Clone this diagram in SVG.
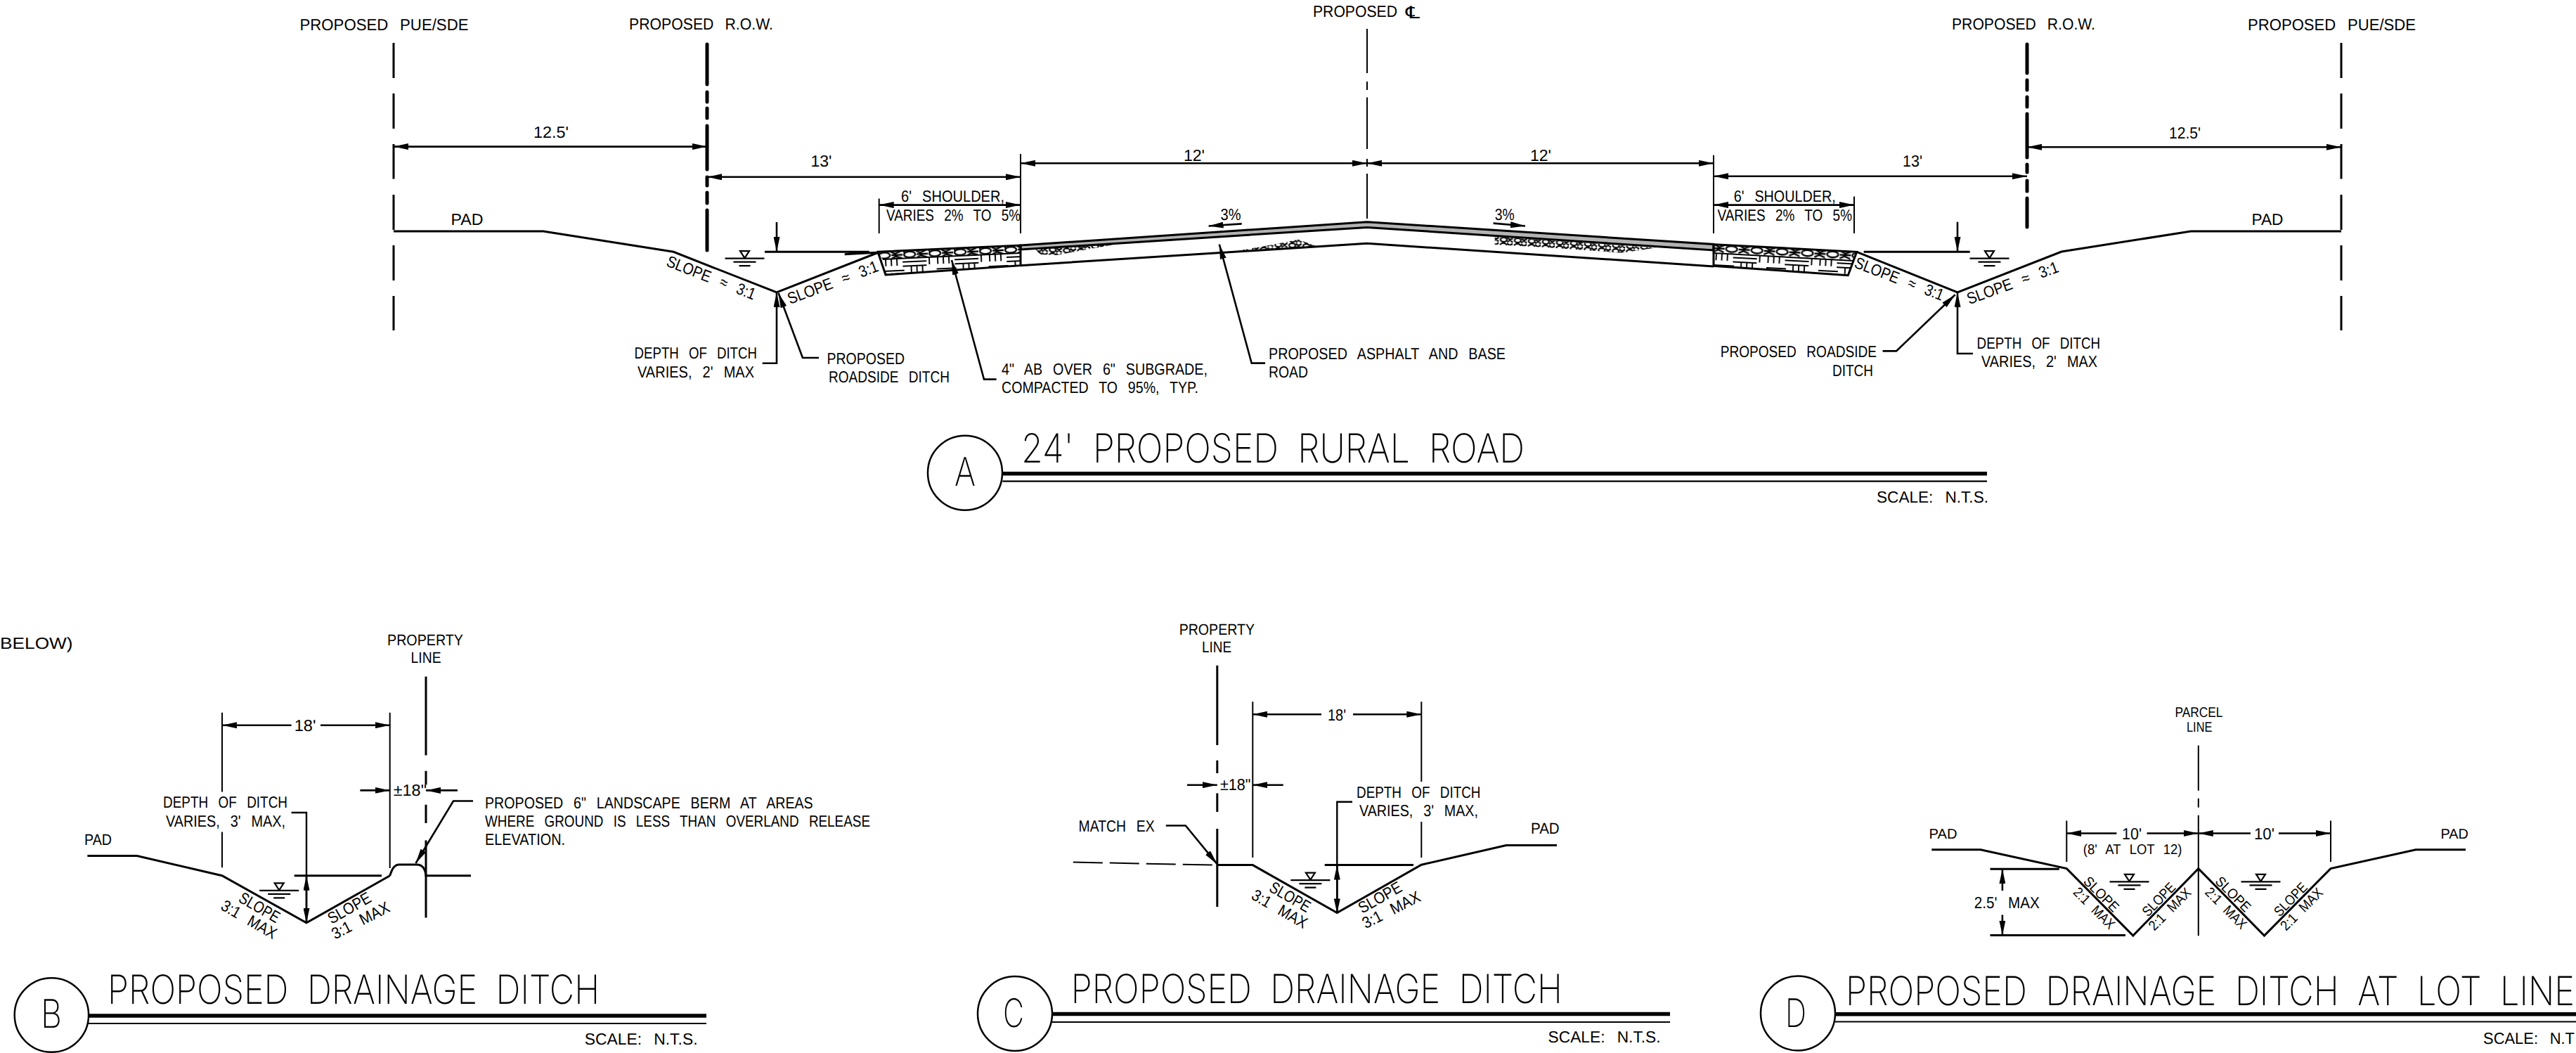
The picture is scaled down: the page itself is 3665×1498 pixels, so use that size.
<svg xmlns="http://www.w3.org/2000/svg" width="3665" height="1498" viewBox="0 0 3665 1498">
<style>
text{fill:#000;font-family:"Liberation Sans",Arial,sans-serif;font-size:23px;word-spacing:11px;text-rendering:geometricPrecision}
.s{font-size:20px;word-spacing:8px}
.m{font-size:22px}
.ttl{font-family:Inter,"Liberation Sans",sans-serif;font-weight:200;font-size:57px;word-spacing:15px}
.ltr{font-family:Inter,"Liberation Sans",sans-serif;font-weight:200;font-size:56px}
.cl{font-family:"DejaVu Sans",sans-serif;font-size:24px}
.p,.d,.l,.x,.pl,.b,.row{fill:none;stroke:#000}
.p{stroke-width:3}
.d{stroke-width:2.6;marker-start:url(#a);marker-end:url(#a)}
.ds{stroke-width:2.6;stroke:#000;fill:none;marker-start:url(#a)}
.de{stroke-width:2.6;stroke:#000;fill:none;marker-end:url(#a)}
.l{stroke-width:2.4}
.x{stroke-width:2}
.pl{stroke-width:3}
.b{stroke-width:3.2}
.row{stroke-width:5;stroke-linecap:round}
.c{fill:#fff;stroke:#000;stroke-width:2.5}
.w{fill:none;stroke:#000;stroke-width:2.2}
</style>
<defs>
<marker id="a" markerUnits="userSpaceOnUse" markerWidth="22" markerHeight="9" refX="21" refY="4.5" orient="auto-start-reverse"><path d="M0 0L21 4.500L0 9z" fill="#000"/></marker>
<pattern id="rockL" width="36" height="12" patternUnits="userSpaceOnUse" patternTransform="translate(1249,358) rotate(-2.600)"><rect width="36" height="12" fill="#fff"/><ellipse cx="9" cy="6" rx="8" ry="4.200" fill="#fff" stroke="#000" stroke-width="2.400"/><path d="M18 1L24 4L32 1M19 11L25 8L34 11M0 1L2 3M35 6H19" fill="none" stroke="#000" stroke-width="2.400"/></pattern>
<pattern id="rockR" width="36" height="12" patternUnits="userSpaceOnUse" patternTransform="translate(2437,347) rotate(3)"><rect width="36" height="12" fill="#fff"/><ellipse cx="27" cy="6" rx="8" ry="4.200" fill="#fff" stroke="#000" stroke-width="2.400"/><path d="M3 1L9 4L17 1M1 11L8 8L16 11M1 6H17" fill="none" stroke="#000" stroke-width="2.400"/></pattern>
<pattern id="rockS" width="20" height="8" patternUnits="userSpaceOnUse" patternTransform="translate(1472,350) rotate(3)"><ellipse cx="6" cy="4" rx="4.500" ry="3" fill="#fff" stroke="#000" stroke-width="2.200"/><path d="M11 1L15 4L19 1M11 7L15 4L19 7" fill="none" stroke="#000" stroke-width="2.200"/></pattern>
<pattern id="subL" width="74" height="20" patternUnits="userSpaceOnUse" patternTransform="translate(1256,369) rotate(-2.600)"><path d="M4 0V10M12 0V10M20 0V10M28 5H62M28 11H62M40 12V20M48 12V20M56 12V20M2 17H30M66 0V10" fill="none" stroke="#000" stroke-width="1.900"/></pattern>
<pattern id="subR" width="74" height="20" patternUnits="userSpaceOnUse" patternTransform="translate(2438,360) rotate(3)"><path d="M4 0V10M12 0V10M20 0V10M28 5H62M28 11H62M40 12V20M48 12V20M56 12V20M2 17H30M66 0V10" fill="none" stroke="#000" stroke-width="1.900"/></pattern>
<g id="wl"><path d="M-6.500 -10H6.500L0 0z M-28 0.500H28 M-16 5.500H16 M-8 11H8" class="w"/></g>
</defs>
<rect width="3665" height="1498" fill="#fff"/>

<g id="section-a">
<path class="x" d="M1945 41V104M1945 116V128M1945 138.500V212M1945 226V237M1945 247V311"/>
<path class="pl" d="M560 61V111M560 133V183M560 205V254.500M560 277V327M560 349V399M560 421V470"/>
<path class="pl" d="M3331 61V111M3331 133V183M3331 205V254.500M3331 277V327M3331 349V399M3331 421V470"/>
<path class="row" d="M1006 63V120M1006 131V145M1006 154V168M1006 179V241M1006 252V264M1006 274V289M1006 299V356"/>
<path class="row" d="M2884 63V104M2884 114V128M2884 138V152M2884 162V224M2884 234V245M2884 257V272M2884 282V323"/>
<path class="p" d="M560 329H773L958.300 358.300L1105 416L1250 359M1088 358.300H1236.700M1201.700 361.700L1246.700 359.300"/>
<path class="p" d="M3331 329H3117L2933 358L2785 416L2641.700 358.300M2651.700 358.300H2802.700"/>
<use href="#wl" x="1059.500" y="367.200"/>
<use href="#wl" x="2830.500" y="367.200"/>
<path d="M1249 358.300L1452 349V360L1255.800 369z" fill="url(#rockL)"/>
<path d="M1255.800 369L1452 360V377.700L1260 391z" fill="url(#subL)"/>
<path d="M2437.700 347.700L2641.700 358.300L2637.300 371L2437.700 360z" fill="url(#rockR)"/>
<path d="M2437.700 360L2637.300 371L2629.300 391.700L2437.700 378.300z" fill="url(#subR)"/>
<path class="x" d="M1255.800 369L1452 360M2437.700 360L2637.300 371"/>
<path d="M1472 353.500L1593 346.500L1530 358L1503 363L1480 362z" fill="url(#rockS)"/>
<path d="M1747 359L1800 350L1847 340.700L1874 350.500z" fill="url(#rockS)"/>
<path d="M2126.700 336.800L2356 352.500L2307 359.700L2200 352L2126.700 348z" fill="url(#rockS)"/>
<path d="M1452 349L1945 315.700L2438 347.500V356L1945 323.400L1452 355z" fill="#b3b3b3" stroke="#000" stroke-width="3"/>
<path class="p" d="M1249 358.300L1452 349V377.700L1260 391z"/>
<path class="p" d="M2438 347.700L2641.700 358.300L2629.300 391.700L2438 378.300z"/>
<path class="p" d="M1452 377.700L1945 346.300L2438 378.900"/>
<text x="426.500" y="43" textLength="240" lengthAdjust="spacingAndGlyphs">PROPOSED PUE/SDE</text>
<text x="895" y="42" textLength="205" lengthAdjust="spacingAndGlyphs">PROPOSED R.O.W.</text>
<text x="1868" y="24" textLength="120" lengthAdjust="spacingAndGlyphs">PROPOSED</text>
<text class="cl" x="2000" y="26" textLength="20" lengthAdjust="spacingAndGlyphs">℄</text>
<text x="2777" y="42" textLength="204" lengthAdjust="spacingAndGlyphs">PROPOSED R.O.W.</text>
<text x="3198" y="43" textLength="239" lengthAdjust="spacingAndGlyphs">PROPOSED PUE/SDE</text>
<text x="759" y="196" textLength="50" lengthAdjust="spacingAndGlyphs">12.5'</text>
<text x="3086" y="197" textLength="45" lengthAdjust="spacingAndGlyphs">12.5'</text>
<text x="1153.500" y="237" textLength="30" lengthAdjust="spacingAndGlyphs">13'</text>
<text x="2707" y="236.500" textLength="28" lengthAdjust="spacingAndGlyphs">13'</text>
<text x="1684" y="228.500" textLength="30" lengthAdjust="spacingAndGlyphs">12'</text>
<text x="2177" y="228.500" textLength="30" lengthAdjust="spacingAndGlyphs">12'</text>
<text x="1282" y="287" textLength="147" lengthAdjust="spacingAndGlyphs">6' SHOULDER,</text>
<text x="1261" y="314" textLength="191" lengthAdjust="spacingAndGlyphs">VARIES 2% TO 5%</text>
<text x="2466.700" y="287" textLength="145" lengthAdjust="spacingAndGlyphs">6' SHOULDER,</text>
<text x="2443.500" y="314" textLength="191.500" lengthAdjust="spacingAndGlyphs">VARIES 2% TO 5%</text>
<text x="641.500" y="320" textLength="46" lengthAdjust="spacingAndGlyphs">PAD</text>
<text x="3203.500" y="320" textLength="45" lengthAdjust="spacingAndGlyphs">PAD</text>
<text x="1736.500" y="312.700" textLength="29" lengthAdjust="spacingAndGlyphs">3%</text>
<text x="2126.700" y="312.700" textLength="28" lengthAdjust="spacingAndGlyphs">3%</text>
<text transform="translate(946.700,378) rotate(21.300)" textLength="134" lengthAdjust="spacingAndGlyphs">SLOPE ≈ 3:1</text>
<text transform="translate(1124,433) rotate(-20.600)" textLength="136" lengthAdjust="spacingAndGlyphs">SLOPE ≈ 3:1</text>
<text transform="translate(2637,380) rotate(21)" textLength="134" lengthAdjust="spacingAndGlyphs">SLOPE ≈ 3:1</text>
<text transform="translate(2801.700,433.300) rotate(-20)" textLength="137" lengthAdjust="spacingAndGlyphs">SLOPE ≈ 3:1</text>
<text x="902.500" y="510" textLength="174.500" lengthAdjust="spacingAndGlyphs">DEPTH OF DITCH</text>
<text x="907" y="537" textLength="166" lengthAdjust="spacingAndGlyphs">VARIES, 2' MAX</text>
<text x="1176.500" y="517.500" textLength="110.500" lengthAdjust="spacingAndGlyphs">PROPOSED</text>
<text x="1179" y="543.500" textLength="172" lengthAdjust="spacingAndGlyphs">ROADSIDE DITCH</text>
<text x="1425" y="533" textLength="293" lengthAdjust="spacingAndGlyphs">4" AB OVER 6" SUBGRADE,</text>
<text x="1425" y="559" textLength="280" lengthAdjust="spacingAndGlyphs">COMPACTED TO 95%, TYP.</text>
<text x="1805" y="511" textLength="337" lengthAdjust="spacingAndGlyphs">PROPOSED ASPHALT AND BASE</text>
<text x="1805" y="536.500" textLength="56" lengthAdjust="spacingAndGlyphs">ROAD</text>
<text x="2447.700" y="508" textLength="222.300" lengthAdjust="spacingAndGlyphs">PROPOSED ROADSIDE</text>
<text x="2607" y="534.600" textLength="58" lengthAdjust="spacingAndGlyphs">DITCH</text>
<text x="2812.600" y="495.600" textLength="175.400" lengthAdjust="spacingAndGlyphs">DEPTH OF DITCH</text>
<text x="2819" y="522.400" textLength="165" lengthAdjust="spacingAndGlyphs">VARIES, 2' MAX</text>
<circle class="c" cx="1373" cy="672.700" r="53"/>
<text class="ltr" x="1358" y="691" textLength="30" lengthAdjust="spacingAndGlyphs">A</text>
<text class="ttl" x="1453" y="658.300" textLength="716" lengthAdjust="spacingAndGlyphs">24' PROPOSED RURAL ROAD</text>
<path d="M1426.400 673.700H2827" stroke="#000" stroke-width="5.500"/>
<path d="M1426.400 684.700H2827" stroke="#000" stroke-width="2.200"/>
<text x="2670" y="715" textLength="159" lengthAdjust="spacingAndGlyphs">SCALE: N.T.S.</text>
</g>

<g id="section-b">
<text x="0" y="923" textLength="103.600" lengthAdjust="spacingAndGlyphs">BELOW)</text>
<path class="pl" d="M606 962.500V1074.400M606 1096.800V1116.300M606 1144.800V1171M606 1195.600V1305.500"/>
<path class="x" d="M316 1013.800V1126.500M316 1183.400V1234.300M554.700 1013.800V1235"/>
<path class="p" d="M124.400 1217.600H194.900L316 1245.700L436 1312.800L554.700 1245.700M418.700 1245.700H543"/>
<path class="p" d="M554.700 1245.700C558 1236 561 1230 568 1230H593C601 1230 605 1236 606 1245.700H670"/>
<use href="#wl" x="397.200" y="1266.300"/>
<text class="m" x="551" y="918" textLength="108" lengthAdjust="spacingAndGlyphs">PROPERTY</text>
<text class="m" x="584.600" y="943.400" textLength="43" lengthAdjust="spacingAndGlyphs">LINE</text>
<text x="418.700" y="1040" textLength="30.700" lengthAdjust="spacingAndGlyphs">18'</text>
<text x="559.700" y="1131.800" textLength="47.300" lengthAdjust="spacingAndGlyphs">±18"</text>
<text class="m" x="120" y="1201.700" textLength="39" lengthAdjust="spacingAndGlyphs">PAD</text>
<text x="232" y="1148.900" textLength="177" lengthAdjust="spacingAndGlyphs">DEPTH OF DITCH</text>
<text x="236" y="1176" textLength="170" lengthAdjust="spacingAndGlyphs">VARIES, 3' MAX,</text>
<text x="690" y="1150" textLength="466.700" lengthAdjust="spacingAndGlyphs">PROPOSED 6" LANDSCAPE BERM AT AREAS</text>
<text x="690" y="1176" textLength="548" lengthAdjust="spacingAndGlyphs">WHERE GROUND IS LESS THAN OVERLAND RELEASE</text>
<text x="690" y="1201.700" textLength="114" lengthAdjust="spacingAndGlyphs">ELEVATION.</text>
<text transform="translate(338,1282) rotate(30)" textLength="63" lengthAdjust="spacingAndGlyphs">SLOPE</text>
<text transform="translate(312.700,1293) rotate(30)" textLength="87" lengthAdjust="spacingAndGlyphs">3:1 MAX</text>
<text transform="translate(471.700,1315) rotate(-29.500)" textLength="67" lengthAdjust="spacingAndGlyphs">SLOPE</text>
<text transform="translate(476.700,1336.700) rotate(-27)" textLength="89.500" lengthAdjust="spacingAndGlyphs">3:1 MAX</text>
<circle class="c" cx="73.400" cy="1444" r="52.700"/>
<text class="ltr" x="58" y="1462" textLength="30" lengthAdjust="spacingAndGlyphs">B</text>
<text class="ttl" x="153" y="1428" textLength="700" lengthAdjust="spacingAndGlyphs">PROPOSED DRAINAGE DITCH</text>
<path d="M126 1445H1005" stroke="#000" stroke-width="5.500"/>
<path d="M126 1456H1005" stroke="#000" stroke-width="2.200"/>
<text x="831.700" y="1485.700" textLength="160.800" lengthAdjust="spacingAndGlyphs">SCALE: N.T.S.</text>
</g>

<g id="section-c">
<path class="pl" d="M1731.800 946.700V1060M1731.800 1081.700V1100M1731.800 1128.500V1155M1731.800 1179V1290"/>
<path class="x" d="M1782.300 998.300V1220M2022.300 998.300V1112M2022.300 1169V1220"/>
<path class="p" d="M2215 1202.600H2143L2022.300 1230.200L1902.300 1298.600L1782.300 1230.600H1731.800M1884.700 1230.600H2011"/>
<path class="x" d="M1526.800 1226.600L1731.800 1230.600" stroke-dasharray="42 10"/>
<use href="#wl" x="1864.400" y="1251.600"/>
<text class="m" x="1677.700" y="902.700" textLength="107.300" lengthAdjust="spacingAndGlyphs">PROPERTY</text>
<text class="m" x="1710" y="928.300" textLength="42" lengthAdjust="spacingAndGlyphs">LINE</text>
<text x="1889" y="1024.800" textLength="26" lengthAdjust="spacingAndGlyphs">18'</text>
<text x="1736" y="1124.400" textLength="43.500" lengthAdjust="spacingAndGlyphs">±18"</text>
<text x="1930" y="1134.600" textLength="176.500" lengthAdjust="spacingAndGlyphs">DEPTH OF DITCH</text>
<text x="1934" y="1161" textLength="169" lengthAdjust="spacingAndGlyphs">VARIES, 3' MAX,</text>
<text x="1534.600" y="1182.600" textLength="108" lengthAdjust="spacingAndGlyphs">MATCH EX</text>
<text class="m" x="2178" y="1186.300" textLength="40.700" lengthAdjust="spacingAndGlyphs">PAD</text>
<text transform="translate(1804.300,1267) rotate(30)" textLength="63" lengthAdjust="spacingAndGlyphs">SLOPE</text>
<text transform="translate(1779,1278) rotate(30)" textLength="87" lengthAdjust="spacingAndGlyphs">3:1 MAX</text>
<text transform="translate(1938,1300) rotate(-29.500)" textLength="67" lengthAdjust="spacingAndGlyphs">SLOPE</text>
<text transform="translate(1943,1321.600) rotate(-27)" textLength="89.500" lengthAdjust="spacingAndGlyphs">3:1 MAX</text>
<circle class="c" cx="1444" cy="1442" r="53"/>
<text class="ltr" x="1427" y="1461.300" textLength="30" lengthAdjust="spacingAndGlyphs">C</text>
<text class="ttl" x="1523.800" y="1426.700" textLength="699" lengthAdjust="spacingAndGlyphs">PROPOSED DRAINAGE DITCH</text>
<path d="M1497 1442.600H2376" stroke="#000" stroke-width="5.500"/>
<path d="M1497 1454H2376" stroke="#000" stroke-width="2.200"/>
<text x="2202.600" y="1483.300" textLength="160" lengthAdjust="spacingAndGlyphs">SCALE: N.T.S.</text>
</g>

<g id="section-d">
<path class="x" d="M3127.800 1060.500V1124.700M3127.800 1135.700V1148.700M3127.800 1159.700V1331.300M2940.300 1167.600V1226M3316 1167.600V1226"/>
<path class="p" d="M2748.300 1208.800H2817.900L2940.300 1235.600L3034.800 1331L3127.800 1235.600L3221.500 1331L3316 1235.600L3437 1208.800H3508M2831.500 1236.300H2929.700M2831.500 1330.600H3024"/>
<use href="#wl" x="3029.500" y="1253.800"/>
<use href="#wl" x="3216.500" y="1253.800"/>
<text class="s" x="3094.500" y="1020" textLength="68" lengthAdjust="spacingAndGlyphs">PARCEL</text>
<text class="s" x="3111" y="1041.300" textLength="36.400" lengthAdjust="spacingAndGlyphs">LINE</text>
<text class="s" x="2744.500" y="1192.700" textLength="40" lengthAdjust="spacingAndGlyphs">PAD</text>
<text class="s" x="3472.400" y="1192.700" textLength="39.400" lengthAdjust="spacingAndGlyphs">PAD</text>
<text x="3019" y="1194" textLength="28" lengthAdjust="spacingAndGlyphs">10'</text>
<text x="3207" y="1194" textLength="29" lengthAdjust="spacingAndGlyphs">10'</text>
<text class="s" x="2963.800" y="1214.600" textLength="140.600" lengthAdjust="spacingAndGlyphs">(8' AT LOT 12)</text>
<text x="2808.800" y="1292" textLength="93" lengthAdjust="spacingAndGlyphs">2.5' MAX</text>
<text class="s" transform="translate(2963,1255) rotate(45)" textLength="62" lengthAdjust="spacingAndGlyphs">SLOPE</text>
<text class="s" transform="translate(2948.600,1270.600) rotate(45)" textLength="74" lengthAdjust="spacingAndGlyphs">2:1 MAX</text>
<text class="s" transform="translate(3056,1305) rotate(-45.700)" textLength="58" lengthAdjust="spacingAndGlyphs">SLOPE</text>
<text class="s" transform="translate(3065,1325) rotate(-45)" textLength="76" lengthAdjust="spacingAndGlyphs">2:1 MAX</text>
<text class="s" transform="translate(3150.500,1255) rotate(45)" textLength="62" lengthAdjust="spacingAndGlyphs">SLOPE</text>
<text class="s" transform="translate(3136.100,1270.600) rotate(45)" textLength="74" lengthAdjust="spacingAndGlyphs">2:1 MAX</text>
<text class="s" transform="translate(3243.500,1305) rotate(-45.700)" textLength="58" lengthAdjust="spacingAndGlyphs">SLOPE</text>
<text class="s" transform="translate(3252.500,1325) rotate(-45)" textLength="76" lengthAdjust="spacingAndGlyphs">2:1 MAX</text>
<circle class="c" cx="2558" cy="1441.500" r="53"/>
<text class="ltr" x="2540" y="1461" textLength="30" lengthAdjust="spacingAndGlyphs">D</text>
<text class="ttl" x="2626" y="1429.500" textLength="1037" lengthAdjust="spacingAndGlyphs">PROPOSED DRAINAGE DITCH AT LOT LINE</text>
<path d="M2610.800 1442.800H3665" stroke="#000" stroke-width="5.500"/>
<path d="M2610.800 1453.500H3665" stroke="#000" stroke-width="2.200"/>
<text x="3533" y="1485" textLength="130" lengthAdjust="spacingAndGlyphs">SCALE: N.T</text>
</g>

<g id="connectors">
<path class="d" d="M560 208.600H1006"/>
<path class="d" d="M1006 251.800H1452"/>
<path class="d" d="M1452 232.300H1945"/>
<path class="d" d="M1945 232.300H2438"/>
<path class="d" d="M2438 250.700H2884"/>
<path class="d" d="M2884 209.300H3331"/>
<path class="d" d="M1250.700 291.600H1452"/>
<path class="d" d="M2438 291.600H2638"/>
<path class="x" d="M1250.700 282.400V332M1452 219V332M2438 220.800V332M2638 279.400V332"/>
<path class="de" d="M1105 316V358"/>
<path class="de" d="M2785 315.700V358"/>
<path class="de" d="M1084.700 516.700H1105V416"/>
<path class="de" d="M1165 509H1142L1107.600 417"/>
<path class="de" d="M1417.600 539.600H1400L1354 370"/>
<path class="de" d="M1800 516.600H1780.700L1734.800 347.700"/>
<path class="de" d="M2807 503H2785V416"/>
<path class="de" d="M2678.600 499.400H2698L2781.700 419.300"/>
<path class="de" d="M1766.700 318.400L1719.600 321.500"/>
<path class="de" d="M2124.600 317.600L2170 321.500"/>
<path class="ds" d="M316 1031.700H414.600"/>
<path class="de" d="M456 1031.700H554.700"/>
<path class="de" d="M512.400 1124.400H554.700"/>
<path class="de" d="M651 1124.400H606"/>
<path class="l" d="M414.600 1156H436V1312"/>
<path class="de" d="M436 1280V1245.700"/>
<path class="de" d="M436 1280V1312.800"/>
<path class="de" d="M673 1139.500H645L591.500 1228"/>
<path class="ds" d="M1782.300 1016.200H1880"/>
<path class="de" d="M1925 1016.200H2022.300"/>
<path class="de" d="M1689 1116.700H1731.800"/>
<path class="de" d="M1825.800 1116.700H1782.300"/>
<path class="l" d="M1924 1140.700H1902.300V1298"/>
<path class="de" d="M1902.300 1265V1230.600"/>
<path class="de" d="M1902.300 1265V1299.400"/>
<path class="de" d="M1658.800 1174.500H1686.800L1731.800 1229.400"/>
<path class="ds" d="M2940.300 1185.500H3011.400"/>
<path class="de" d="M3054.500 1185.500H3127.800"/>
<path class="ds" d="M3127.800 1185.500H3202"/>
<path class="de" d="M3242 1185.500H3316"/>
<path class="ds" d="M2848.900 1236.300V1267"/>
<path class="de" d="M2848.900 1301.500V1330.600"/>
</g>
</svg>
